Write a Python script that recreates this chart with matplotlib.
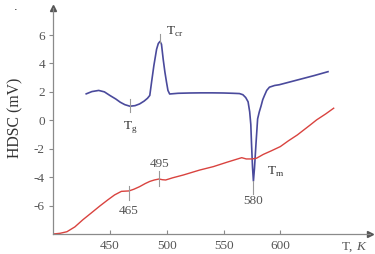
import matplotlib
matplotlib.use("Agg")
import matplotlib.pyplot as plt

plt.rcParams['axes.unicode_minus'] = False
SERIF = ['Liberation Serif', 'DejaVu Serif']

# DSC (blue) curve: temperature (K), signal (mV)
dsc_T = [429, 434, 440, 445, 450, 455, 459, 463, 467.5, 472, 476, 480, 483, 485,
         486.6, 488.6, 491, 492.5, 494, 495.3, 496.8, 498.3, 499.7, 501, 502.5,
         510, 520, 530, 540, 550, 558, 564, 567, 569.5, 571.6, 573, 574, 574.6,
         575.5, 576.3, 577.2, 578.6, 580, 581.5, 583, 584.5, 586, 588, 590.4,
         595, 599, 610, 620, 630, 642]
dsc_V = [1.86, 2.02, 2.1, 2.0, 1.74, 1.5, 1.27, 1.1, 0.99, 1.03, 1.15, 1.35, 1.55, 1.75,
         2.7, 3.85, 5.0, 5.4, 5.55, 5.35, 4.3, 3.4, 2.7, 2.1, 1.85,
         1.9, 1.92, 1.93, 1.93, 1.92, 1.9, 1.88, 1.8, 1.6, 1.3, 0.6, -0.3, -1.6,
         -3.3, -4.27, -3.4, -1.6, 0.1, 0.6, 1.0, 1.45, 1.74, 2.1, 2.33,
         2.45, 2.5, 2.73, 2.94, 3.15, 3.42]

# HDSC (red) curve
hdsc_T = [400, 406, 412, 419, 426, 433, 441, 448, 454, 460, 466.6, 471, 476, 481,
          485, 489, 493.2, 496, 499, 505, 514.5, 529, 541, 553, 566, 570, 575,
          579, 585, 592, 600, 607, 615, 620, 626, 632, 640, 647]
hdsc_V = [-8.0, -7.95, -7.84, -7.5, -7.0, -6.55, -6.03, -5.6, -5.25, -5.0, -4.97, -4.85, -4.67, -4.45,
          -4.3, -4.2, -4.13, -4.18, -4.2, -4.05, -3.85, -3.5, -3.26, -2.95, -2.63, -2.72, -2.72,
          -2.67, -2.4, -2.15, -1.85, -1.45, -1.03, -0.72, -0.35, 0.03, 0.45, 0.85]

xticks = [450, 500, 550, 600]
yticks = [-6, -4, -2, 0, 2, 4, 6]

fig = plt.figure(figsize=(3.75, 2.54), dpi=100)
ax = fig.add_axes([53.3/375, 20/254, (370-53.3)/375, (234-8)/254])
ax.set_xlim(400, 679)
ax.set_ylim(-8, 7.9)

gray = '#8a8a8a'
for s in ['top', 'right']:
    ax.spines[s].set_visible(False)
for s in ['left', 'bottom']:
    ax.spines[s].set_color(gray)
    ax.spines[s].set_linewidth(0.9)
ax.plot(1, 0, '>', color='#555555', ms=4, transform=ax.transAxes, clip_on=False)
ax.plot(0, 1, '^', color='#555555', ms=4, transform=ax.transAxes, clip_on=False)

ax.set_xticks(xticks)
ax.set_yticks(yticks)
ax.set_xticklabels([str(v) for v in xticks], family=SERIF, fontsize=9.5, color='#555555')
ax.set_yticklabels([str(v) for v in yticks], family=SERIF, fontsize=9.5, color='#555555')
ax.tick_params(axis='x', direction='in', length=3, color=gray, width=0.8, pad=4)
ax.tick_params(axis='y', direction='out', length=3, color=gray, width=0.8, pad=3)

blue = '#4a4a9c'
red = '#d9433f'
ax.plot(dsc_T, dsc_V, color=blue, lw=1.2)
ax.plot(hdsc_T, hdsc_V, color=red, lw=1.0)

mk = dict(color='#999999', lw=0.8)
ax.plot([494, 494], [5.45, 6.1], **mk)
ax.plot([467.5, 467.5], [0.6, 1.5], **mk)
ax.plot([576.3, 576.3], [-4.3, -5.2], **mk)
ax.plot([466.6, 466.6], [-4.6, -5.6], **mk)
ax.plot([493.2, 493.2], [-3.6, -4.6], **mk)

tk = dict(family=SERIF, fontsize=9.5, color='#333333')
ax.text(499.5, 6.25, r'T$_{\mathregular{cr}}$', ha='left', va='center', **tk)
ax.text(467.5, -0.45, r'T$_{\mathregular{g}}$', ha='center', va='center', **tk)
ax.text(588, -3.6, r'T$_{\mathregular{m}}$', ha='left', va='center', **tk)
nk = dict(family=SERIF, fontsize=9.5, color='#555555')
ax.text(466.6, -6.35, '465', ha='center', va='center', **nk)
ax.text(493.2, -3.05, '495', ha='center', va='center', **nk)
ax.text(576.3, -5.7, '580', ha='center', va='center', **nk)

fig.text(356/375, 1-247/254, 'T, ', ha='right', va='center', family=SERIF, fontsize=9.5, color='#555555')
fig.text(356/375, 1-247/254, 'K', ha='left', va='center', family=SERIF, fontsize=9.5,
         color='#555555', style='italic')
fig.text(15/375, 1-118/254, 'HDSC (mV)', rotation=90, ha='center', va='center',
         family=SERIF, fontsize=11.3, color='#333333')
fig.text(16/375, 1-7/254, '.', ha='center', va='center', fontsize=8, color='black')

fig.savefig('out.png', dpi=100)
